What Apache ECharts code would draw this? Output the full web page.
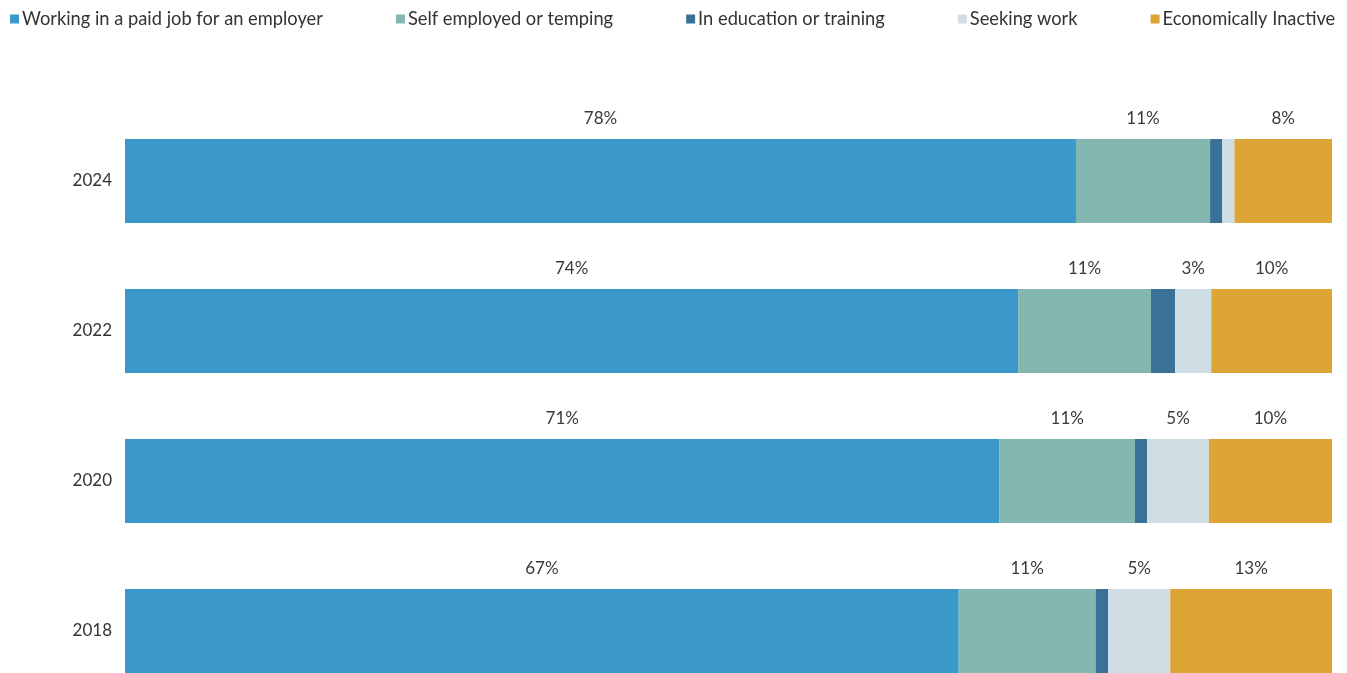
<!DOCTYPE html>
<html>
<head>
<meta charset="utf-8">
<script src="https://cdn.jsdelivr.net/npm/echarts@6/dist/echarts.min.js"></script>
<style>
  html, body { margin: 0; padding: 0; background: #ffffff; }
  #chart { width: 1347px; height: 673px; }
</style>
</head>
<body>
<div id="chart"></div>
<script>
// Survey years, top row first on screen
const years = ['2018', '2020', '2022', '2024'];

// Share of respondents (%) per status, one entry per year
const paidJob = [67, 71, 74, 78];
const selfEmployed = [11, 11, 11, 11];
const education = [1, 1, 2, 1];
const seekingWork = [5, 5, 3, 1];
const inactive = [13, 10, 10, 8];

const seriesNames = [
  'Working in a paid job for an employer',
  'Self employed or temping',
  'In education or training',
  'Seeking work',
  'Economically Inactive'
];
const seriesValues = [paidJob, selfEmployed, education, seekingWork, inactive];
const seriesColors = ['#3a98cb', '#83b7b0', '#3b7196', '#cfdde4', '#dca535'];

// Each row is stretched to fill the full bar width
const rowTotals = years.map((_, i) => seriesValues.reduce((s, arr) => s + arr[i], 0));

const FONT = 'Lato, "DejaVu Sans", sans-serif';

const series = seriesNames.map((name, k) => ({
  name: name,
  type: 'bar',
  stack: 'total',
  barWidth: 84,
  itemStyle: { color: seriesColors[k] },
  emphasis: { disabled: true },
  data: seriesValues[k].map((v, i) => ({
    value: v / rowTotals[i] * 100,
    raw: v,
    label: { show: v >= 3 }
  })),
  label: {
    position: 'top',
    distance: 12,
    color: '#3a3a3a',
    fontFamily: FONT,
    fontSize: 17,
    formatter: p => p.data.raw + '%'
  }
}));

const chart = echarts.init(document.getElementById('chart'), null, { renderer: 'canvas' });
chart.setOption({
  animation: false,
  backgroundColor: '#ffffff',
  legend: {
    top: 5,
    left: 5,
    itemWidth: 9,
    itemHeight: 9,
    itemGap: 73,
    icon: 'rect',
    textStyle: { fontFamily: FONT, fontSize: 18.3, color: '#333333', padding: [0, 0, 0, -2] },
    data: seriesNames
  },
  grid: { left: 125, right: 15, top: 106, height: 600, outerBoundsMode: 'none', containLabel: false },
  xAxis: {
    type: 'value',
    min: 0,
    max: 100,
    show: false
  },
  yAxis: {
    type: 'category',
    data: years,
    axisLine: { show: false },
    axisTick: { show: false },
    axisLabel: { margin: 13, color: '#333333', fontFamily: FONT, fontSize: 17 }
  },
  series: series
});
</script>
</body>
</html>
